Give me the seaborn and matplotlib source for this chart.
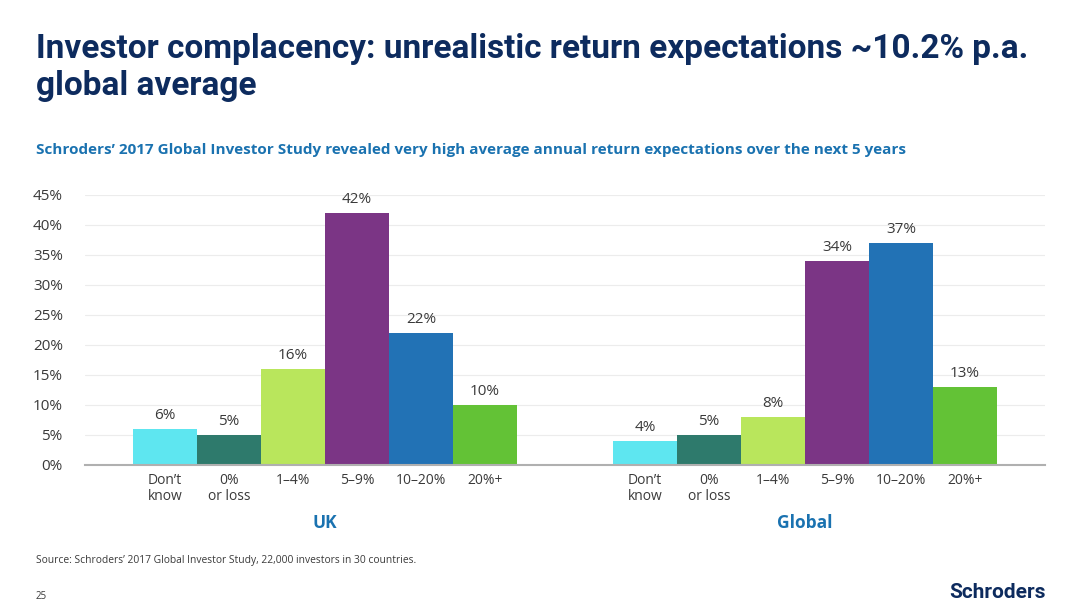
import numpy as np
import pandas as pd
import matplotlib
matplotlib.use("Agg")
import matplotlib.pyplot as plt
import seaborn as sns

# data
regions = ["UK", "Global"]
buckets = ["Don’t\nknow", "0%\nor loss", "1–4%", "5–9%", "10–20%", "20%+"]
uk_values = [6, 5, 16, 42, 22, 10]
global_values = [4, 5, 8, 34, 37, 13]
bucket_colors = ["#5ee6f0", "#2e7a6c", "#b9e65c", "#7b3585", "#2272b5", "#63c236"]
y_ticks = [0, 5, 10, 15, 20, 25, 30, 35, 40, 45]

df = pd.DataFrame({
    "region": np.repeat(regions, len(buckets)),
    "bucket": buckets * 2,
    "share": uk_values + global_values,
})

sns.set_style("white")
plt.rcParams["font.family"] = ["Open Sans", "DejaVu Sans"]

navy = "#0d2b5e"
blue = "#1a72b0"
grey = "#3a3a3a"

fig = plt.figure(figsize=(10.87, 6.08), dpi=100)
ax = fig.add_axes([0.0782, 0.2352, 0.8832, 0.4441])

sns.barplot(data=df, x="region", y="share", hue="bucket", order=regions,
            hue_order=buckets, palette=bucket_colors, width=0.8, gap=0,
            saturation=1, legend=False, linewidth=0, ax=ax)

for cont in ax.containers:
    ax.bar_label(cont, fmt="%d%%", padding=4, fontsize=11, color=grey)

ax.set_xlim(-0.5, 1.5)
ax.set_ylim(0, 45)
ax.set_yticks(y_ticks)
ax.set_yticklabels([f"{t}%" for t in y_ticks], fontsize=11, color=grey)
ax.tick_params(axis="y", length=0, pad=16)
ax.grid(axis="y", color="#ececec", linewidth=0.8)
ax.set_axisbelow(True)

# boundary ticks between groups, bucket names under each bar
ax.set_xticks([-0.5, 0.5, 1.5])
ax.set_xticklabels(["", "", ""])
ax.tick_params(axis="x", which="major", length=7, width=1.3, color="#b0b0b0")
centers = []
names = []
for cont, name in zip(ax.containers, buckets):
    for p in cont.patches:
        centers.append(p.get_x() + p.get_width() / 2)
        names.append(name)
ax.set_xticks(centers, minor=True)
ax.set_xticklabels(names, minor=True, fontsize=10, color=grey, linespacing=1.05,
                   va="top")
ax.tick_params(axis="x", which="minor", length=0, pad=6)

for i, r in enumerate(regions):
    ax.text(i, -0.215, r, transform=ax.get_xaxis_transform(), ha="center",
            va="center", fontsize=12.5, fontweight="bold", color=blue)

ax.set_xlabel("")
ax.set_ylabel("")
for s in ["top", "right", "left"]:
    ax.spines[s].set_visible(False)
ax.spines["bottom"].set_color("#b0b0b0")
ax.spines["bottom"].set_linewidth(1.5)

fig.text(0.033, 0.920, "Investor complacency: unrealistic return expectations ~10.2% p.a.",
         fontsize=24, fontweight="bold", color=navy, family=["Roboto", "DejaVu Sans"],
         va="center")
fig.text(0.033, 0.858, "global average", fontsize=24, fontweight="bold", color=navy,
         family=["Roboto", "DejaVu Sans"], va="center")
fig.text(0.033, 0.753,
         "Schroders’ 2017 Global Investor Study revealed very high average annual return expectations over the next 5 years",
         fontsize=11, fontweight="bold", color=blue, va="center")
fig.text(0.033, 0.078, "Source: Schroders’ 2017 Global Investor Study, 22,000 investors in 30 countries.",
         fontsize=7.4, color=grey, va="center")
fig.text(0.033, 0.019, "25", fontsize=7, color=grey, va="center")
fig.text(0.962, 0.026, "Schroders", fontsize=15, fontweight="bold", color=navy,
         family=["Roboto", "DejaVu Sans"], ha="right", va="center")

fig.savefig("out.png", dpi=100, facecolor="white")
